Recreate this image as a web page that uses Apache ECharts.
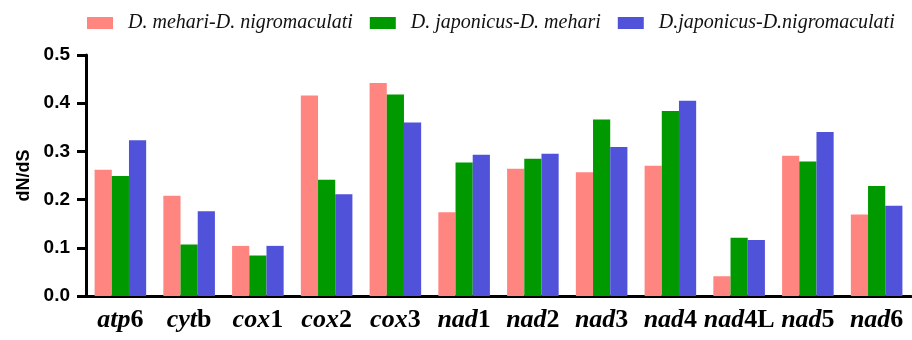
<!DOCTYPE html>
<html>
<head>
<meta charset="utf-8">
<script src="https://cdn.jsdelivr.net/npm/echarts@6/dist/echarts.min.js"></script>
<style>html,body{margin:0;padding:0;background:#fff}#c{width:912px;height:340px}</style>
</head>
<body>
<div id="c"></div>
<script>
const categories = ['atp6','cytb','cox1','cox2','cox3','nad1','nad2','nad3','nad4','nad4L','nad5','nad6'];
const seriesNames = ['D. mehari-D. nigromaculati','D. japonicus-D. mehari','D.japonicus-D.nigromaculati'];
const mehariNigro = [0.262,0.208,0.104,0.416,0.442,0.174,0.264,0.257,0.270,0.041,0.291,0.169];
const japonicusMehari = [0.249,0.107,0.084,0.241,0.418,0.277,0.285,0.366,0.384,0.121,0.279,0.228];
const japonicusNigro = [0.323,0.176,0.104,0.211,0.360,0.293,0.295,0.309,0.405,0.116,0.340,0.187];
const yTicks = [0, 0.1, 0.2, 0.3, 0.4, 0.5];
const colors = ['#FF8680','#009900','#5052DA'];

const chart = echarts.init(document.getElementById('c'));
chart.setOption({
  animation:false,
  color: colors,
  legend:{
    left:82, top:8, icon:'rect',
    itemWidth:26, itemHeight:12, itemGap:17,
    textStyle:{fontFamily:'Liberation Serif', fontStyle:'italic', fontSize:20, color:'#111', padding:[0,0,0,10]},
    data: seriesNames
  },
  grid:{left:86, right:1, top:55, bottom:44, containLabel:false},
  xAxis:{
    type:'category', data:categories,
    axisLine:{lineStyle:{color:'#000', width:3}},
    axisTick:{alignWithLabel:true, length:8, lineStyle:{color:'#000', width:3}},
    axisLabel:{
      interval:0, margin:11,
      formatter:function(v){
        const m = v.match(/^(atp|cyt|cox|nad)(.*)$/);
        return '{i|'+m[1]+'}{u|'+m[2]+'}';
      },
      rich:{
        i:{fontFamily:'Liberation Serif', fontStyle:'italic', fontWeight:'bold', fontSize:26, color:'#000'},
        u:{fontFamily:'Liberation Serif', fontWeight:'bold', fontSize:26, color:'#000'}
      }
    }
  },
  yAxis:{
    type:'value', min:0, max:0.5, interval:0.1,
    name:'dN/dS', nameLocation:'middle', nameGap:50,
    nameTextStyle:{fontFamily:'Liberation Sans', fontWeight:'bold', fontSize:18, color:'#000'},
    axisLine:{show:true, lineStyle:{color:'#000', width:3}},
    axisTick:{show:true, length:9, lineStyle:{color:'#000', width:3}},
    splitLine:{show:false},
    axisLabel:{
      margin:16,
      fontFamily:'Liberation Sans', fontWeight:'bold', fontSize:19, color:'#000',
      formatter:function(v){ return yTicks.indexOf(Math.round(v*10)/10) >= 0 ? v.toFixed(1) : ''; }
    }
  },
  series:[
    {name:seriesNames[0], type:'bar', data:mehariNigro, barGap:'0%', barCategoryGap:'25%'},
    {name:seriesNames[1], type:'bar', data:japonicusMehari, barGap:'0%', barCategoryGap:'25%'},
    {name:seriesNames[2], type:'bar', data:japonicusNigro, barGap:'0%', barCategoryGap:'25%'}
  ]
});
</script>
</body>
</html>
